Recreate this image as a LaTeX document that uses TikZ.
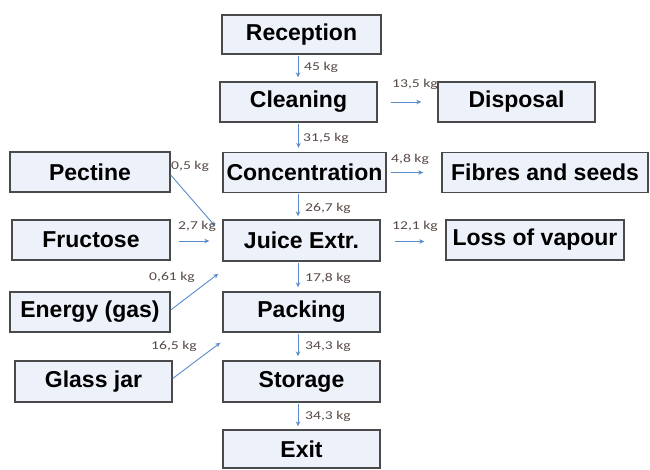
\documentclass[tikz,border=0pt]{standalone}
\usepackage{fontspec}
\setmainfont{Liberation Sans}
\newfontfamily\lblfont[FakeStretch=1.3]{Carlito}
\usetikzlibrary{arrows.meta}
\definecolor{boxfill}{HTML}{EDF1F9}
\definecolor{boxdraw}{HTML}{4A4A4A}
\definecolor{arrcol}{HTML}{5B8BC9}
\definecolor{lblcol}{HTML}{574A46}
\tikzset{
  box/.style={draw=boxdraw, line width=1.4pt, fill=boxfill, inner sep=0pt,
    font=\fontsize{23}{24}\selectfont\bfseries, text=black},
  arr/.style={draw=arrcol, line width=0.9pt, -{Stealth[length=5pt,width=4.5pt]}},
  lbl/.style={font=\lblfont\fontsize{12}{12}\selectfont, text=lblcol, inner sep=0pt, anchor=west}
}
\begin{document}
\begin{tikzpicture}[x=1pt,y=-1pt]
\useasboundingbox (0,0) rectangle (650,469);
% boxes
\node[box, minimum width=159pt, minimum height=39pt] (rec) at (301.5,34.5) {Reception};
\node[box, minimum width=157pt, minimum height=40pt] (cle) at (298.5,102) {Cleaning};
\node[box, minimum width=157pt, minimum height=40pt] (dis) at (516.5,102) {Disposal};
\node[box, minimum width=160pt, minimum height=40pt] (pec) at (90,172) {Pectine};
\node[box, minimum width=163pt, minimum height=40pt] (con) at (304.5,172.5) {Concentration};
\node[box, minimum width=206pt, minimum height=40pt] (fib) at (545,172.5) {Fibres and seeds};
\node[box, minimum width=158pt, minimum height=40pt] (fru) at (91,240) {Fructose};
\node[box, minimum width=157pt, minimum height=41pt] (jui) at (301.5,240.5) {Juice Extr.};
\node[box, minimum width=178pt, minimum height=40pt] (los) at (535,240) {Loss of vapour};
\node[box, minimum width=160pt, minimum height=40pt] (ene) at (90,312) {Energy (gas)};
\node[box, minimum width=157pt, minimum height=40pt] (pac) at (301.5,312) {Packing};
\node[box, minimum width=157pt, minimum height=41pt] (gla) at (93.5,381.5) {Glass jar};
\node[box, minimum width=157pt, minimum height=41pt] (sto) at (301.5,381.5) {Storage};
\node[box, minimum width=157pt, minimum height=38pt] (exi) at (301.5,449) {Exit};
% vertical arrows
\draw[arr, shorten <=1pt, shorten >=4pt] ([xshift=-3.5pt]rec.south) -- ([xshift=-3.5pt]rec.south |- cle.north);
\draw[arr, shorten <=1pt, shorten >=4pt] (cle.south) -- (cle.south |- con.north);
\draw[arr, shorten <=1pt, shorten >=3pt] ([xshift=-3.5pt]con.south -| jui.south) -- ([xshift=-3.5pt]jui.north);
\draw[arr, shorten <=1pt, shorten >=4pt] ([xshift=-3.5pt]jui.south) -- ([xshift=-3.5pt]pac.north);
\draw[arr, shorten <=1pt, shorten >=4pt] ([xshift=-3.5pt]pac.south) -- ([xshift=-3.5pt]sto.north);
\draw[arr, shorten <=1pt, shorten >=3pt] ([xshift=-3.5pt]sto.south) -- ([xshift=-3.5pt]exi.north);
% horizontal arrows
\draw[arr, shorten <=13pt, shorten >=16pt] (cle.east) -- (dis.west);
\draw[arr, shorten <=4pt, shorten >=18pt] (con.east) -- (con.east -| fib.west);
\draw[arr, shorten <=14pt, shorten >=21pt] ([yshift=-1pt]jui.east) -- ([yshift=-1pt]jui.east -| los.west);
\draw[arr, shorten <=8pt, shorten >=13pt] ([yshift=-1pt]fru.east) -- ([yshift=-1pt]fru.east -| jui.west);
% diagonal arrows
\draw[arr] ([yshift=-3pt]pec.east) -- ([xshift=-7pt,yshift=-7pt]jui.north west);
\draw[arr] ([yshift=2pt]ene.east) -- ([xshift=-4pt,yshift=-12pt]jui.south west);
\draw[arr] ([yshift=3pt]gla.east) -- ([xshift=-2pt,yshift=-10pt]pac.south west);
% labels
\node[lbl] (l1) at (304,67) {45 kg};
\node[lbl] (l2) at (392,84) {13,5 kg};
\node[lbl] (l3) at (303,138) {31,5 kg};
\node[lbl] (l4) at (171,166) {0,5 kg};
\node[lbl] (l5) at (391,159) {4,8 kg};
\node[lbl] (l6) at (305,208) {26,7 kg};
\node[lbl] (l7) at (178,226) {2,7 kg};
\node[lbl] (l8) at (392,226) {12,1 kg};
\node[lbl] (l9) at (305,278) {17,8 kg};
\node[lbl] (l10) at (149,277) {0,61 kg};
\node[lbl] (l11) at (151,346) {16,5 kg};
\node[lbl] (l12) at (305,346) {34,3 kg};
\node[lbl] (l13) at (305,416) {34,3 kg};
\end{tikzpicture}
\end{document}
